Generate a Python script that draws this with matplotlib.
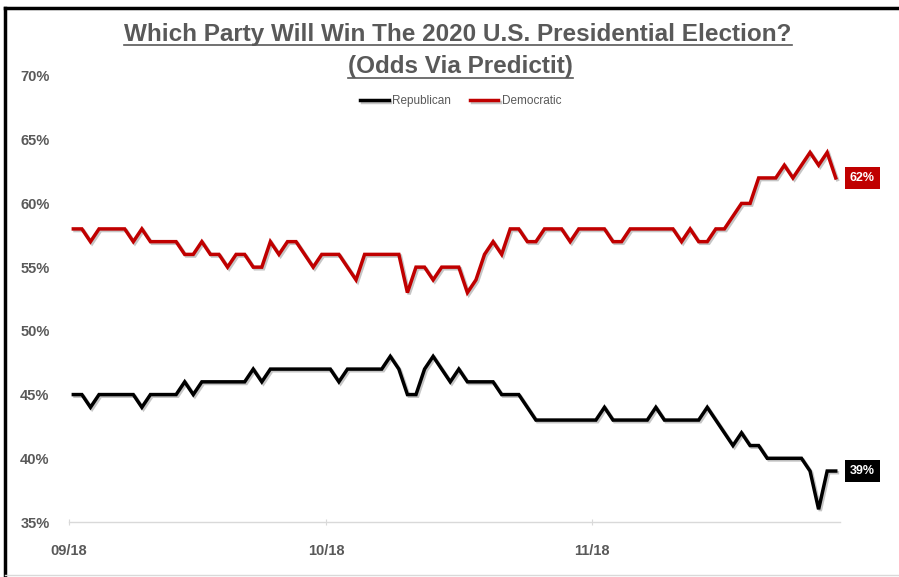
import numpy as np
import pandas as pd
import matplotlib
matplotlib.use('Agg')
import matplotlib.pyplot as plt
import matplotlib.dates as mdates
import matplotlib.patheffects as pe
from matplotlib.lines import Line2D

plt.rcParams['font.family'] = ['Liberation Sans', 'DejaVu Sans']

'''
data (daily odds, %)
'''

start_date = '2018-09-01'
n_days = 90

democratic = [58, 58, 57, 58, 58, 58, 58, 57, 58, 57, 57, 57, 57, 56, 56, 57, 56, 56, 55, 56, 56, 55, 55,
              57, 56, 57, 57, 56, 55, 56, 56, 56, 55, 54, 56, 56, 56, 56, 56, 53, 55, 55, 54, 55, 55,
              55, 53, 54, 56, 57, 56, 58, 58, 57, 57, 58, 58, 58, 57, 58, 58, 58, 58, 57, 57, 58, 58,
              58, 58, 58, 58, 57, 58, 57, 57, 58, 58, 59, 60, 60, 62, 62, 62, 63, 62, 63, 64, 63, 64, 62]

republican = [45, 45, 44, 45, 45, 45, 45, 45, 44, 45, 45, 45, 45, 46, 45, 46, 46, 46, 46, 46, 46, 47, 46,
              47, 47, 47, 47, 47, 47, 47, 47, 46, 47, 47, 47, 47, 47, 48, 47, 45, 45, 47, 48, 47, 46,
              47, 46, 46, 46, 46, 45, 45, 45, 44, 43, 43, 43, 43, 43, 43, 43, 43, 44, 43, 43, 43, 43,
              43, 44, 43, 43, 43, 43, 43, 44, 43, 42, 41, 42, 41, 41, 40, 40, 40, 40, 40, 39, 36, 39, 39]

series_names = ['Republican', 'Democratic']
series_colors = ['black', '#C00000']

y_ticks = [35, 40, 45, 50, 55, 60, 65, 70]
x_ticks = ['2018-09-01', '2018-10-01', '2018-11-01']

dates = pd.date_range(start_date, periods=n_days) + pd.Timedelta(hours=12)

'''
figure
'''

fig = plt.figure(figsize=(8.99, 5.77), dpi=100)
ax = fig.add_axes([0.0768, 0.0953, 0.8576, 0.773])

grey = '#595959'
shadow = [pe.SimpleLineShadow(offset=(1.2, -1.2), shadow_color='#808080', alpha=0.45), pe.Normal()]

for vals, name, col in zip([republican, democratic], series_names, series_colors):
    ax.plot(dates, vals, color=col, lw=2.5, label=name, path_effects=shadow, solid_joinstyle='miter')
    # end-of-line value box
    ax.annotate('%d%%' % vals[-1], xy=(dates[-1], vals[-1]), xytext=(10, 0), textcoords='offset points',
                ha='left', va='center', color='white', fontsize=9, fontweight='bold',
                bbox=dict(boxstyle='square,pad=0.4', fc=col, ec='none'))

ax.set_ylim(35, 70)
ax.set_xlim(pd.Timestamp('2018-09-01'), pd.Timestamp('2018-11-30'))
ax.set_yticks(y_ticks)
ax.set_yticklabels(['%d%%' % v for v in y_ticks])
ax.set_xticks(pd.to_datetime(x_ticks))
ax.xaxis.set_major_formatter(mdates.DateFormatter('%m/%y'))

for s in ['top', 'right', 'left']:
    ax.spines[s].set_visible(False)
ax.spines['bottom'].set_color('#d9d9d9')
ax.spines['bottom'].set_linewidth(1.0)

ax.tick_params(axis='y', length=0, pad=14, labelsize=10.5, labelcolor=grey)
ax.tick_params(axis='x', length=4, direction='inout', color='#d9d9d9', pad=14, labelsize=10.5, labelcolor=grey)
for t in ax.get_xticklabels() + ax.get_yticklabels():
    t.set_fontweight('bold')

leg = ax.legend(loc='center', bbox_to_anchor=(0.508, 0.944), ncol=2, frameon=False, fontsize=8.5,
                handlelength=2.4, handletextpad=0.3, columnspacing=1.6)
for t in leg.get_texts():
    t.set_color(grey)

# title (underlined)
t1 = fig.text(0.5095, 1 - 34 / 577, 'Which Party Will Win The 2020 U.S. Presidential Election?',
              ha='center', va='center', fontsize=17.5, fontweight='bold', color=grey)
t2 = fig.text(0.512, 1 - 67 / 577, '(Odds Via Predictit)',
              ha='center', va='center', fontsize=17.5, fontweight='bold', color=grey)

fig.canvas.draw()
r = fig.canvas.get_renderer()
for t in [t1, t2]:
    bb = t.get_window_extent(r)
    y = (bb.y0 + 1) / fig.bbox.height
    fig.add_artist(Line2D([bb.x0 / fig.bbox.width, bb.x1 / fig.bbox.width], [y, y],
                          transform=fig.transFigure, color=grey, lw=1.2))

# chart frame
fig.add_artist(Line2D([5 / 899, 1], [1 - 8 / 577, 1 - 8 / 577], transform=fig.transFigure, color='black', lw=2.5))
fig.add_artist(Line2D([5 / 899, 5 / 899], [0, 1 - 8 / 577], transform=fig.transFigure, color='black', lw=2.5))
fig.add_artist(Line2D([5 / 899, 1], [2 / 577, 2 / 577], transform=fig.transFigure, color='#d9d9d9', lw=1))

fig.savefig('out.png', dpi=100)
